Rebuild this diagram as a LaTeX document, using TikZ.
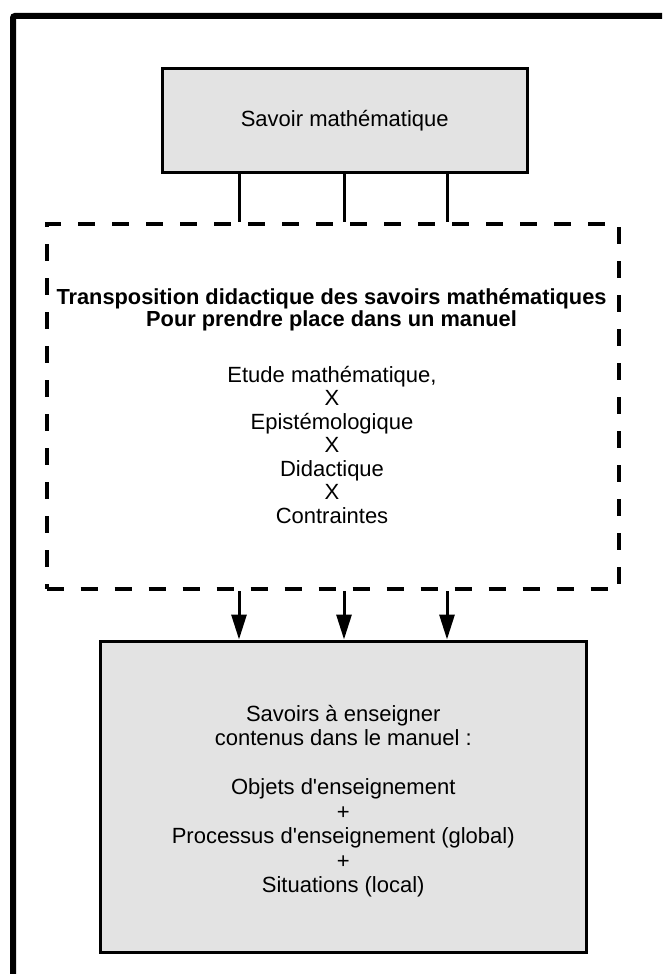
\documentclass[tikz,border=0pt]{standalone}
\usepackage{fontspec}
\setmainfont{Liberation Sans}[Ligatures=TeXOff]
\usetikzlibrary{arrows.meta}
\definecolor{boxgrey}{HTML}{E3E3E3}
\begin{document}
\begin{tikzpicture}[x=1pt,y=-1pt,
  box/.style={draw=black, line width=3pt, fill=boxgrey, inner sep=0pt, align=center,
              font=\fontsize{22}{24.4}\selectfont},
  dashbox/.style={draw=black, line width=4pt, dash pattern=on 17pt off 17pt, inner sep=0pt},
  link/.style={line width=3pt},
  flow/.style={line width=3pt, -{Triangle[length=25pt,width=15pt]}},
  txt/.style={inner sep=0pt, align=center}]
\useasboundingbox (0,0) rectangle (662,974);
\begin{scope}
  \clip (0,0) rectangle (662,974);
  \draw[line width=6pt, rounded corners=2pt] (13,16) rectangle (720,1040);
\end{scope}

\node[box, minimum width=364.5pt, minimum height=103.5pt] (savoir) at (344.75,120.25) {Savoir mathématique};
\node[dashbox, minimum width=572.5pt, minimum height=365pt] (transpo) at (332.75,406.5) {};
\node[txt, font=\fontsize{21.8}{22}\selectfont\bfseries] (titre) at (331.5,310)
  {Transposition didactique des savoirs mathématiques\\Pour prendre place dans un manuel};
\node[txt, font=\fontsize{22}{23.5}\selectfont] (etude) at (332,445)
  {Etude mathématique,\\X\\Epistémologique\\X\\Didactique\\X\\Contraintes};
\node[box, minimum width=486.5pt, minimum height=311.5pt] (manuel) at (343.25,796.75) {};
\node[txt, font=\fontsize{22}{24.4}\selectfont] (contenu) at (343.25,801)
  {Savoirs à enseigner\\contenus dans le manuel :\\[25pt]Objets d'enseignement\\+\\Processus d'enseignement (global)\\+\\Situations (local)};

\foreach \cx [count=\i] in {239,344,447} { \coordinate (c\i) at (\cx,0); }
\foreach \i in {1,2,3} {
  \draw[link] (savoir.south -| c\i) -- (transpo.north -| c\i);
  \draw[flow] (transpo.south -| c\i) -- (manuel.north -| c\i);
}
\end{tikzpicture}
\end{document}
